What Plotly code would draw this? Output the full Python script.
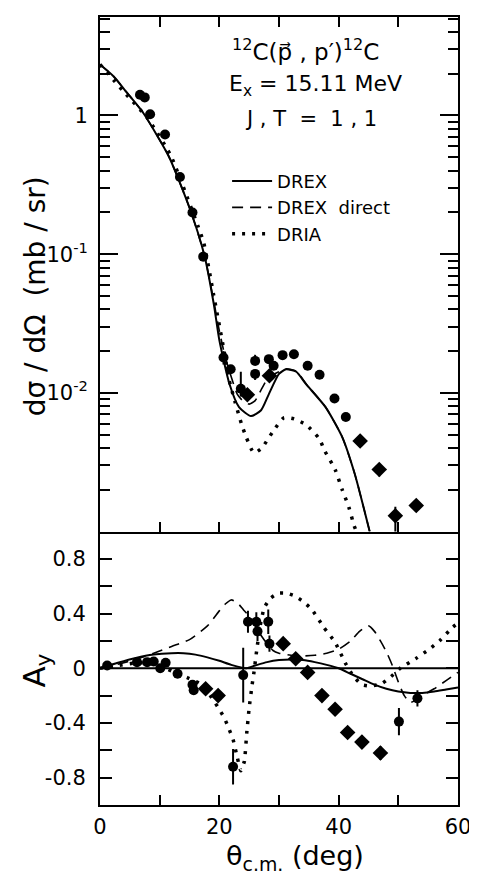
import plotly.graph_objects as go

# ---------------- data: top panel (cross section, mb/sr) ----------------
top_circ_x = [6.7, 7.5, 8.4, 10.9, 13.4, 15.5, 17.3, 20.7, 21.9, 23.6, 26.0, 26.0,
              28.3, 29.1, 30.6, 32.5, 34.8, 36.8, 39.3, 41.2]
top_circ_y = [1.41, 1.35, 1.02, 0.73, 0.36, 0.20, 0.096, 0.018, 0.0148, 0.0107, 0.017, 0.0137,
              0.0175, 0.0157, 0.0187, 0.019, 0.0157, 0.0135, 0.0091, 0.0067]
top_circ_eplus = [0, 0, 0, 0, 0, 0, 0, 0.002, 0, 0.0035, 0.0018, 0,
                  0, 0, 0, 0, 0, 0, 0, 0]
top_circ_eminus = [0, 0, 0, 0, 0, 0, 0, 0.002, 0, 0.0013, 0, 0.0013,
                   0, 0, 0, 0, 0, 0, 0, 0]
top_diam_x = [24.7, 28.4, 43.6, 46.8, 49.5, 53.0]
top_diam_y = [0.0097, 0.0133, 0.0045, 0.0028, 0.0013, 0.00154]
top_diam_eplus = [0, 0, 0, 0.0003, 0.00021, 0]
top_diam_eminus = [0, 0, 0, 0.0003, 0.00035, 0]

drex_x = [0, 2.3, 4.4, 7.2, 11.5, 15.1, 17.5, 19.1, 20.0, 21.7, 23.3, 25.3, 27.0, 28.3,
          30.0, 31.2, 32.9, 34.5, 37.8, 40.6, 42.7, 45.2]
drex_y = [2.33, 1.91, 1.48, 1.05, 0.51, 0.21, 0.098, 0.043, 0.024, 0.0116, 0.0079, 0.0068,
          0.0075, 0.0098, 0.0137, 0.0148, 0.0142, 0.0116, 0.0079, 0.0048, 0.0026, 0.001]

drexd_x = [0, 2.3, 4.4, 7.2, 11.5, 15.1, 17.5, 19.1, 20.0, 21.0, 22.0, 23.0, 24.0, 25.0,
           26.0, 27.0, 28.0, 29.0, 30.0, 31.2, 32.9, 34.5, 37.8, 40.6, 42.7, 45.2]
drexd_y = [2.33, 1.91, 1.48, 1.05, 0.51, 0.21, 0.098, 0.045, 0.028, 0.018, 0.013, 0.0098,
           0.0087, 0.0083, 0.0088, 0.0105, 0.0125, 0.0135, 0.0142, 0.0149, 0.0143, 0.0117,
           0.0079, 0.0048, 0.0026, 0.001]

dria_x = [0, 4, 8, 11.8, 13.9, 16.4, 17.4, 19.0, 20.8, 21.6, 22.6, 23.7, 24.5, 25.8, 27.1,
          28.9, 30.8, 32.5, 34.5, 36.7, 37.7, 39.4, 40.6, 41.7, 42.6, 43.2]
dria_y = [2.33, 1.48, 0.95, 0.52, 0.31, 0.16, 0.12, 0.052, 0.020, 0.0126, 0.0087, 0.006,
          0.0048, 0.0037, 0.0040, 0.0052, 0.0066, 0.0065, 0.0059, 0.0047, 0.0038, 0.0028,
          0.0020, 0.0015, 0.0011, 0.00095]

# ---------------- data: bottom panel (analyzing power A_y) ----------------
bot_circ_x = [1.2, 6.2, 7.9, 9.0, 10.1, 11.0, 13.0, 15.5, 15.7, 22.3, 24.0, 24.8, 26.2,
              26.4, 28.2, 28.4, 50.1, 53.2]
bot_circ_y = [0.02, 0.045, 0.045, 0.05, 0.0, 0.04, -0.04, -0.12, -0.16, -0.72, -0.05, 0.34,
              0.34, 0.27, 0.34, 0.18, -0.39, -0.22]
bot_circ_err = [0, 0, 0, 0, 0, 0, 0, 0, 0, 0.13, 0.2, 0.08, 0.07, 0.07, 0.09, 0.06, 0.1, 0.06]
bot_diam_x = [17.7, 19.8, 30.7, 32.8, 34.8, 37.2, 39.4, 41.5, 43.9, 47.0]
bot_diam_y = [-0.15, -0.2, 0.18, 0.07, -0.03, -0.2, -0.3, -0.47, -0.54, -0.62]
bot_diam_err = [0, 0.04, 0, 0, 0, 0, 0, 0.04, 0.05, 0.05]

ay_drex_x = [0, 3, 6, 9, 12, 14, 16, 18, 20, 22, 24.5, 26, 28, 30, 32, 34, 36, 38, 40, 42,
             44, 46, 48, 50, 52, 54, 56, 58, 60]
ay_drex_y = [0, 0.04, 0.075, 0.1, 0.11, 0.11, 0.1, 0.08, 0.055, 0.025, 0.0, 0.02, 0.045,
             0.06, 0.065, 0.06, 0.045, 0.025, 0.0, -0.04, -0.08, -0.12, -0.15, -0.17, -0.18,
             -0.18, -0.17, -0.155, -0.14]

ay_drexd_x = [0, 3, 6, 9, 12, 15, 18, 20, 21, 22, 23, 24, 25, 26, 27, 28, 29, 30, 32, 34,
              36, 38, 40, 42, 43.5, 45, 46, 47, 48, 49, 50, 51, 52, 53, 54, 56, 58, 60]
ay_drexd_y = [0, 0.03, 0.065, 0.11, 0.16, 0.21, 0.31, 0.42, 0.47, 0.50, 0.48, 0.43, 0.38,
              0.31, 0.24, 0.18, 0.13, 0.11, 0.095, 0.09, 0.095, 0.11, 0.14, 0.2, 0.27, 0.31,
              0.27, 0.2, 0.12, 0.02, -0.1, -0.2, -0.25, -0.23, -0.2, -0.15, -0.09, -0.03]

ay_dria_x = [0, 3, 6, 8, 10, 12, 14.7, 16.6, 18, 19.7, 20.8, 21.4, 22.3, 23.0, 23.6, 24.2,
             24.6, 25.0, 25.5, 25.8, 26.2, 26.8, 27.5, 28.5, 29.9, 31.2, 32.6, 34, 35.5,
             37.5, 39.4, 41.1, 42.5, 43.9, 45.5, 47.3, 48.8, 50.3, 52.9, 55.2, 56.9, 59.1, 60]
ay_dria_y = [0, 0.02, 0.04, 0.04, 0.02, -0.02, -0.07, -0.11, -0.17, -0.28, -0.36, -0.42,
             -0.52, -0.65, -0.75, -0.68, -0.47, -0.29, -0.12, -0.03, 0.11, 0.3, 0.44, 0.51,
             0.55, 0.55, 0.53, 0.49, 0.43, 0.30, 0.19, 0.04, -0.06, -0.12, -0.13, -0.11,
             -0.06, 0, 0.07, 0.14, 0.2, 0.3, 0.33]

top_tickvals = [1, 0.1, 0.01]
top_ticktext = ["1", "10<sup>-1</sup>", "10<sup>-2</sup>"]
ay_tickvals = [-0.8, -0.4, 0, 0.4, 0.8]
ay_ticktext = ["-0.8", "-0.4", "0", "0.4", "0.8"]
x_tickvals = [0, 20, 40, 60]

FONT = "DejaVu Sans, Liberation Sans, sans-serif"
BLACK = "black"

fig = go.Figure()

SOLID = dict(color=BLACK, width=2)
DASH = dict(color=BLACK, width=1.6, dash="11px,7px")
DOT = dict(color=BLACK, width=3.5, dash="3px,7px")

# top panel curves
fig.add_trace(go.Scatter(x=drex_x, y=drex_y, mode="lines", name="DREX",
                         line=dict(**SOLID, shape="spline", smoothing=0.6),
                         xaxis="x2", yaxis="y2"))
fig.add_trace(go.Scatter(x=drexd_x, y=drexd_y, mode="lines", name="DREX&nbsp;&nbsp;direct",
                         line=dict(**DASH, shape="spline", smoothing=0.6),
                         xaxis="x2", yaxis="y2"))
fig.add_trace(go.Scatter(x=dria_x, y=dria_y, mode="lines", name="DRIA",
                         line=dict(**DOT, shape="spline", smoothing=0.6),
                         xaxis="x2", yaxis="y2"))

# top panel data
fig.add_trace(go.Scatter(x=top_circ_x, y=top_circ_y, mode="markers", showlegend=False,
                         marker=dict(symbol="circle", size=10, color=BLACK),
                         error_y=dict(type="data", symmetric=False, array=top_circ_eplus,
                                      arrayminus=top_circ_eminus, color=BLACK, thickness=2, width=0),
                         xaxis="x2", yaxis="y2"))
fig.add_trace(go.Scatter(x=top_diam_x, y=top_diam_y, mode="markers", showlegend=False,
                         marker=dict(symbol="diamond", size=12, color=BLACK),
                         error_y=dict(type="data", symmetric=False, array=top_diam_eplus,
                                      arrayminus=top_diam_eminus, color=BLACK, thickness=2, width=0),
                         xaxis="x2", yaxis="y2"))

# bottom panel curves
fig.add_trace(go.Scatter(x=ay_drex_x, y=ay_drex_y, mode="lines", showlegend=False,
                         line=dict(**SOLID, shape="spline", smoothing=0.6)))
fig.add_trace(go.Scatter(x=ay_drexd_x, y=ay_drexd_y, mode="lines", showlegend=False,
                         line=dict(**DASH, shape="spline", smoothing=0.6)))
fig.add_trace(go.Scatter(x=ay_dria_x, y=ay_dria_y, mode="lines", showlegend=False,
                         line=dict(**DOT, shape="spline", smoothing=0.4)))

# bottom panel data
fig.add_trace(go.Scatter(x=bot_circ_x, y=bot_circ_y, mode="markers", showlegend=False,
                         marker=dict(symbol="circle", size=10, color=BLACK),
                         error_y=dict(type="data", array=bot_circ_err, color=BLACK,
                                      thickness=2, width=0)))
fig.add_trace(go.Scatter(x=bot_diam_x, y=bot_diam_y, mode="markers", showlegend=False,
                         marker=dict(symbol="diamond", size=12, color=BLACK),
                         error_y=dict(type="data", array=bot_diam_err, color=BLACK,
                                      thickness=2, width=0)))

axis_common = dict(showline=True, linecolor=BLACK, linewidth=2,
                   ticks="inside", tickcolor=BLACK, tickwidth=2, showgrid=False,
                   zeroline=False, tickfont=dict(family=FONT, size=21, color=BLACK))

fig.update_layout(
    width=477, height=877,
    margin=dict(l=92, r=27, t=7, b=80),
    paper_bgcolor="white", plot_bgcolor="white",
    font=dict(family=FONT, color=BLACK),
    xaxis=dict(**axis_common, mirror=False, domain=[0, 1], range=[0, 60], anchor="y",
               tickmode="array", tickvals=x_tickvals, ticklen=10, ticklabelstandoff=2,
               minor=dict(dtick=10, tick0=0, ticks="inside", ticklen=10, tickwidth=2,
                          tickcolor=BLACK)),
    yaxis=dict(**axis_common, mirror="allticks", domain=[0, 0.347], range=[-1.0, 1.0],
               anchor="x", tickmode="array", tickvals=ay_tickvals, ticktext=ay_ticktext,
               ticklen=12, ticklabelstandoff=8,
               minor=dict(dtick=0.2, tick0=0, ticks="inside", ticklen=12, tickwidth=2,
                          tickcolor=BLACK)),
    xaxis2=dict(**axis_common, mirror="allticks", domain=[0, 1], range=[0, 60], anchor="y2",
                matches="x", showticklabels=False, tickmode="linear", dtick=10, tick0=0,
                ticklen=10),
    yaxis2=dict(**axis_common, mirror="allticks", domain=[0.347, 1], type="log",
                range=[-3, 0.71], anchor="x2", ticklabelstandoff=6,
                tickmode="array", tickvals=top_tickvals, ticktext=top_ticktext, ticklen=18,
                minor=dict(tickmode="array",
                           tickvals=[0.002, 0.003, 0.004, 0.005, 0.006, 0.007, 0.008, 0.009,
                                     0.02, 0.03, 0.04, 0.05, 0.06, 0.07, 0.08, 0.09,
                                     0.2, 0.3, 0.4, 0.5, 0.6, 0.7, 0.8, 0.9,
                                     2, 3, 4, 5],
                           ticks="inside", ticklen=10, tickwidth=2, tickcolor=BLACK)),
    legend=dict(x=0.355, y=0.815, xanchor="left", yanchor="top", bgcolor="rgba(0,0,0,0)",
                font=dict(family=FONT, size=18, color=BLACK), tracegroupgap=0,
                itemwidth=40),
    showlegend=True,
)

# zero line in A_y panel
fig.add_hline(y=0, line=dict(color=BLACK, width=2), xref="x", yref="y")

ann_font = dict(family=FONT, size=21, color=BLACK)
fig.add_annotation(text="<sup>12</sup>C(p\u20d7 , p\u2032)<sup>12</sup>C", x=0.575, y=0.958,
                   xref="paper", yref="paper", xanchor="center", yanchor="middle",
                   showarrow=False, font=dict(family=FONT, size=23, color=BLACK))
fig.add_annotation(text="E<sub>x</sub> = 15.11 MeV", x=0.603, y=0.913,
                   xref="paper", yref="paper", xanchor="center", yanchor="middle",
                   showarrow=False, font=dict(family=FONT, size=22, color=BLACK))
fig.add_annotation(text="J , T  =  1 , 1", x=0.589, y=0.871,
                   xref="paper", yref="paper", xanchor="center", yanchor="middle",
                   showarrow=False, font=ann_font)

# axis titles
fig.add_annotation(text="d\u03c3 / d\u03a9  (mb / sr)", textangle=-90, x=-0.18, y=0.645,
                   xref="paper", yref="paper", xanchor="center", yanchor="middle",
                   showarrow=False, font=dict(family=FONT, size=28, color=BLACK))
fig.add_annotation(text="A<sub>y</sub>", textangle=-90, x=-0.18, y=0.17,
                   xref="paper", yref="paper", xanchor="center", yanchor="middle",
                   showarrow=False, font=dict(family=FONT, size=31, color=BLACK))
fig.add_annotation(text="\u03b8<sub>c.m.</sub> (deg)", x=0.545, y=-0.066,
                   xref="paper", yref="paper", xanchor="center", yanchor="middle",
                   showarrow=False, font=dict(family=FONT, size=27, color=BLACK))

fig.write_html("out.html")
